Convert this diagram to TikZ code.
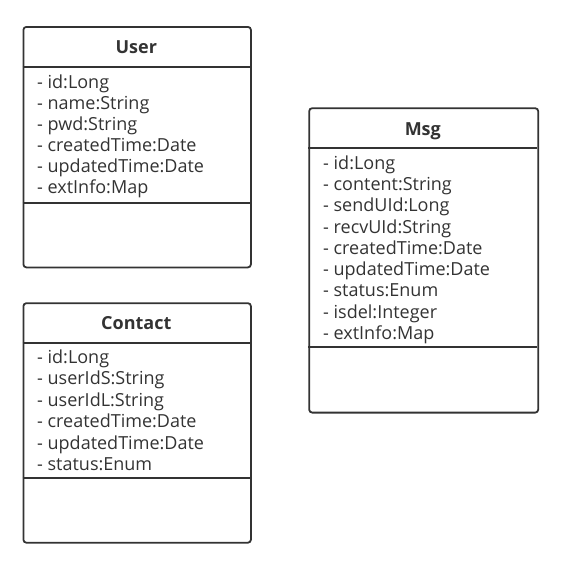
\documentclass[tikz,border=0pt]{standalone}
\usepackage{fontspec}
\setmainfont{Open Sans}
\definecolor{ink}{HTML}{333333}
\tikzset{
  classbox/.style={draw=ink, line width=1.8pt, rounded corners=3pt, inner sep=0pt, anchor=north west},
  title/.style={inner sep=0pt, text=ink, text height=13pt, text depth=0pt, font=\fontsize{18}{21}\selectfont\bfseries},
  attr/.style={anchor=west, inner sep=0pt, text=ink, text height=13pt, text depth=1pt, font=\fontsize{18}{21}\selectfont},
  sep/.style={draw=ink, line width=1.8pt}
}
\begin{document}
\begin{tikzpicture}[x=1pt,y=-1pt]
\useasboundingbox (0,0) rectangle (563,565);
% User
\node[classbox, minimum width=227.5pt, minimum height=240.5pt] (user) at (22.5,26) {};
\node[title] (usertitle) at (136.25,47) {User};
\draw[sep] (22.5,66.7) -- (250,66.7);
\draw[sep] (22.5,202.7) -- (250,202.7);
\foreach \t [count=\i] in {id:Long, name:String, pwd:String, createdTime:Date, updatedTime:Date, extInfo:Map}
  \node[attr] (user\i) at (37,61+21*\i) {- \t};
% Contact
\node[classbox, minimum width=227.5pt, minimum height=239.5pt] (contact) at (22.5,302.3) {};
\node[title] (contacttitle) at (136.25,323.3) {Contact};
\draw[sep] (22.5,342.7) -- (250,342.7);
\draw[sep] (22.5,477.7) -- (250,477.7);
\foreach \t [count=\i] in {id:Long, userIdS:String, userIdL:String, createdTime:Date, updatedTime:Date, status:Enum}
  \node[attr] (contact\i) at (37,336+21.4*\i) {- \t};
% Msg
\node[classbox, minimum width=229pt, minimum height=304.4pt] (msg) at (308.3,107.3) {};
\node[title] (msgtitle) at (422.8,129.3) {Msg};
\draw[sep] (308.3,147.7) -- (537.3,147.7);
\draw[sep] (308.3,347.3) -- (537.3,347.3);
\foreach \t [count=\i] in {id:Long, content:String, sendUId:Long, recvUId:String, createdTime:Date, updatedTime:Date, status:Enum, isdel:Integer, extInfo:Map}
  \node[attr] (msg\i) at (323,142+21.25*\i) {- \t};
\end{tikzpicture}
\end{document}
